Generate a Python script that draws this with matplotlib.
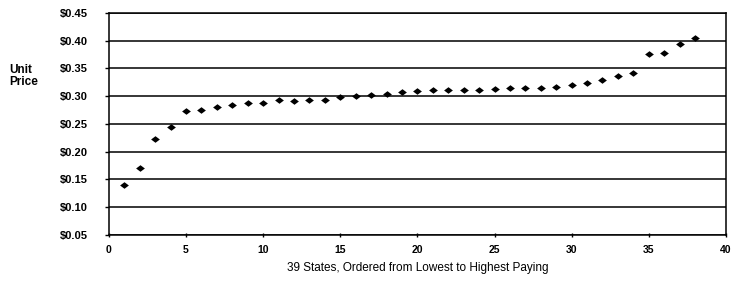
import numpy as np
import matplotlib.pyplot as plt

plt.rcParams['font.family'] = ['Liberation Sans', 'DejaVu Sans']

states = np.arange(1, 39)
unit_price = [0.140, 0.170, 0.223, 0.244, 0.274, 0.276, 0.281, 0.285, 0.287, 0.288,
              0.293, 0.292, 0.293, 0.294, 0.299, 0.301, 0.302, 0.304, 0.307, 0.309,
              0.311, 0.311, 0.312, 0.312, 0.313, 0.315, 0.314, 0.315, 0.317, 0.320,
              0.323, 0.330, 0.336, 0.342, 0.376, 0.377, 0.394, 0.405]
yticks = np.arange(0.05, 0.451, 0.05)
xticks = [0, 5, 10, 15, 20, 25, 30, 35, 40]

# diamond a bit wider than tall, like the scanned original
diamond = [(-1, 0), (0, 0.75), (1, 0), (0, -0.75), (-1, 0)]

fig = plt.figure(figsize=(7.31, 2.82), dpi=100)
ax = fig.add_axes([0.149, 0.167, 0.844, 0.787])

ax.scatter(states, unit_price, marker=diamond, s=40, color='black', linewidths=0, zorder=3)

ax.set_xlim(0, 40)
ax.set_ylim(0.05, 0.45)
ax.set_xticks(xticks)
ax.set_yticks(yticks)
ax.set_yticklabels([f"${v:.2f}" for v in yticks])
ax.yaxis.grid(True, color='black', linewidth=1.1)
ax.set_axisbelow(True)
for s in ax.spines.values():
    s.set_color('black')
    s.set_linewidth(1.1)
ax.tick_params(axis='y', length=3, width=1, labelsize=8, pad=12)
ax.tick_params(axis='x', length=3, width=1, labelsize=7.5, pad=6, direction='inout')
for lab in ax.get_xticklabels() + ax.get_yticklabels():
    lab.set_fontweight('bold')

ax.set_xlabel("39 States, Ordered from Lowest to Highest Paying", fontsize=8.5, labelpad=5)
fig.text(0.012, 0.73, "Unit\nPrice", fontsize=8.5, ha='left', va='center',
         linespacing=1.05, fontweight='bold')

fig.savefig("out.png", dpi=100)
